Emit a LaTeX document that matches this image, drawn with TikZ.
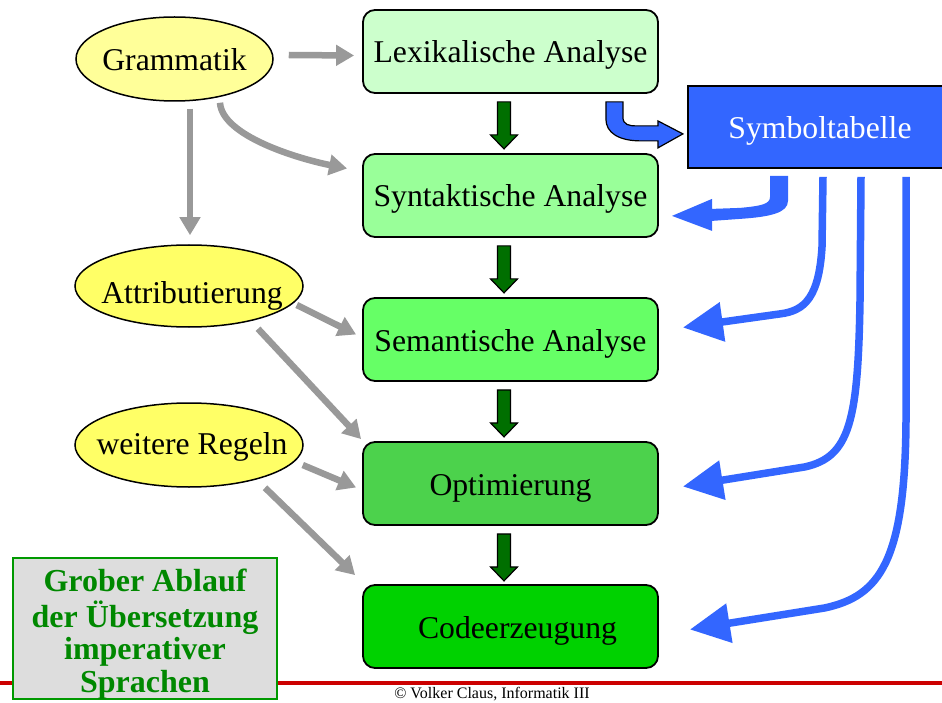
\documentclass[tikz,border=0pt]{standalone}
\usepackage{fontspec}
\setmainfont{Liberation Serif}
\usetikzlibrary{shapes.geometric,arrows.meta,calc}

\definecolor{lexfill}{HTML}{CCFFCC}
\definecolor{synfill}{HTML}{99FF99}
\definecolor{semfill}{HTML}{66FF66}
\definecolor{optfill}{HTML}{4CD24C}
\definecolor{codefill}{HTML}{00D200}
\definecolor{symblue}{HTML}{3366FF}
\definecolor{paleyellow}{HTML}{FFFF99}
\definecolor{brightyellow}{HTML}{FFFF66}
\definecolor{feedgray}{HTML}{999999}
\definecolor{flowgreen}{HTML}{006F00}
\definecolor{titlegreen}{HTML}{009900}
\definecolor{titletext}{HTML}{008800}
\definecolor{titlegray}{HTML}{DDDDDD}
\definecolor{rulered}{HTML}{CC0000}

\newcommand\ovaltext[2][0pt]{\makebox[0pt]{\raisebox{#1}{#2}}}

\begin{document}
\begin{tikzpicture}[x=1pt,y=-1pt,
  mainfont/.style={font=\fontsize{31.7pt}{36pt}\selectfont,
    text height=23pt,text depth=0pt},
  phasebox/.style={draw=black,line width=1.8pt,rounded corners=12pt,
    minimum width=295pt,minimum height=83pt,inner sep=0pt,mainfont},
  specell/.style={ellipse,draw=black,line width=1.5pt,inner sep=0pt,mainfont},
  feedarrow/.style={draw=feedgray,line width=6.5pt,
    -{Triangle[length=18pt,width=20pt]}},
  symarrow/.style={draw=symblue,line width=7.5pt,
    -{Triangle[length=40pt,width=38pt]}},
  flowarrow/.style={fill=flowgreen,draw=black,line width=1.2pt,line join=miter},
  blockblue/.style={fill=symblue,draw=black,line width=1.2pt,line join=miter},
]
\useasboundingbox (0,0) rectangle (942,703);

% footer rule
\draw[rulered,line width=4.5pt] (0,683) -- (942,683);

% compiler phases
\node[phasebox,fill=lexfill]  (lex)  at (510.5,51.5)  {Lexikalische Analyse};
\node[phasebox,fill=synfill]  (syn)  at (510.5,195.5) {Syntaktische Analyse};
\node[phasebox,fill=semfill]  (sem)  at (510.5,339.5) {Semantische Analyse};
\node[phasebox,fill=optfill]  (opt)  at (510.5,483.5) {Optimierung};
\node[phasebox,fill=codefill] (code) at (510.5,626.5) {\hspace*{14pt}Codeerzeugung};

% symbol table
\node[draw=black,line width=1.8pt,fill=symblue,text=white,mainfont,
  minimum width=260pt,minimum height=82pt,inner sep=0pt]
  (symbol) at (818,127) {\hspace*{4pt}Symboltabelle};

% specifications
\node[specell,fill=paleyellow,minimum width=197pt,minimum height=84pt]
  (gram) at (174.5,59) {\ovaltext{Grammatik}};
\node[specell,fill=brightyellow,minimum width=228pt,minimum height=82pt]
  (attr) at (189,286) {\ovaltext[-6.5pt]{\hspace*{6pt}Attributierung}};
\node[specell,fill=brightyellow,minimum width=228pt,minimum height=84pt]
  (weit) at (189,445) {\ovaltext[2pt]{\hspace*{6pt}weitere Regeln}};

% title box
\node[draw=titlegreen,line width=2.5pt,fill=titlegray,
  minimum width=264pt,minimum height=141pt,inner sep=0pt,
  text=titletext,font=\bfseries\fontsize{32pt}{32.5pt}\selectfont]
  (title) at (145,628.5) {\raisebox{-13pt}[0pt][0pt]{\begin{tabular}{@{}c@{}}
    Grober Ablauf\\der Übersetzung\\imperativer\\Sprachen\end{tabular}}};

% credit line
\node[font=\fontsize{16pt}{18pt}\selectfont,inner sep=0pt]
  (credit) at (492,694) {© Volker Claus, Informatik III};

% phase-to-phase flow
\foreach \a/\b in {lex/syn,syn/sem,sem/opt,opt/code}{
  \filldraw[flowarrow] ($(\a.south)+(-13,8)$) -- ++(13,0) -- ++(0,33)
    -- ++(7,0) -- ++(-13.5,14) -- ++(-13.5,-14) -- ++(7,0) -- cycle;
}

% specifications feeding the phases
\draw[feedarrow] ($(gram.east)+(15,-4)$) -- ($(lex.west)+(-8,4)$);
\draw[feedarrow] ($(gram.south)+(45.5,1)$) .. controls +(2,33) and +(-50,-10) ..
  ($(syn.west)+(-15,-27)$);
\draw[feedarrow] ($(gram.south)+(15.5,7)$) -- ($(attr.north)+(1,-9)$);
\draw[feedarrow] ($(attr.east)+(-7,19)$) -- ($(sem.west)+(-6,-5)$);
\draw[feedarrow] ($(attr.south)+(69,1)$) -- ($(opt.north west)+(-1,-2)$);
\draw[feedarrow] ($(weit.east)+(-1,20)$) -- ($(opt.west)+(-6,4)$);
\draw[feedarrow] ($(weit.south)+(76,0)$) -- ($(code.north west)+(-7,-9)$);

% lexical analysis fills the symbol table
\filldraw[blockblue] ($(lex.south east)+(-53,8)$) -- ++(17,0) -- ++(0,15)
  .. controls +(0,8) and +(-8,0) .. ++(14,9) -- ++(21,0) -- ++(0,-5)
  -- ++(25,13) -- ++(-25,14) -- ++(0,-7) -- ++(-17,0)
  .. controls +(-22,0) and +(0,14) .. ++(-35,-22) -- cycle;

% symbol table read by the later phases
\fill[symblue] ($(symbol.south)+(-48,7)$) -- ++(18,0) -- ++(0,25)
  .. controls +(0,12) and +(30,-2) .. ++(-48,18) -- ++(-28,2) -- ++(0,10)
  -- ++(-40,-15) -- ++(40,-17) -- ++(0,10) -- ++(28,-1)
  .. controls +(22,-2) and +(0,7) .. ++(30,-11) -- cycle;
\draw[symarrow] ($(symbol.south)+(5,8)$) -- ++(-1,70)
  .. controls +(-3,50) and +(25,-3) .. ++(-42,67) -- ($(sem.east)+(24,-12)$);
\draw[symarrow] ($(symbol.south)+(43,8)$) -- ++(-1,124)
  .. controls +(-2,120) and +(45,-10) .. ++(-55,166) -- ($(opt.east)+(24,3)$);
\draw[symarrow] ($(symbol.south)+(88,8)$) -- ++(0,244)
  .. controls +(-1,140) and +(55,-12) .. ++(-81,187) -- ($(code.east)+(31,3)$);
\end{tikzpicture}
\end{document}
